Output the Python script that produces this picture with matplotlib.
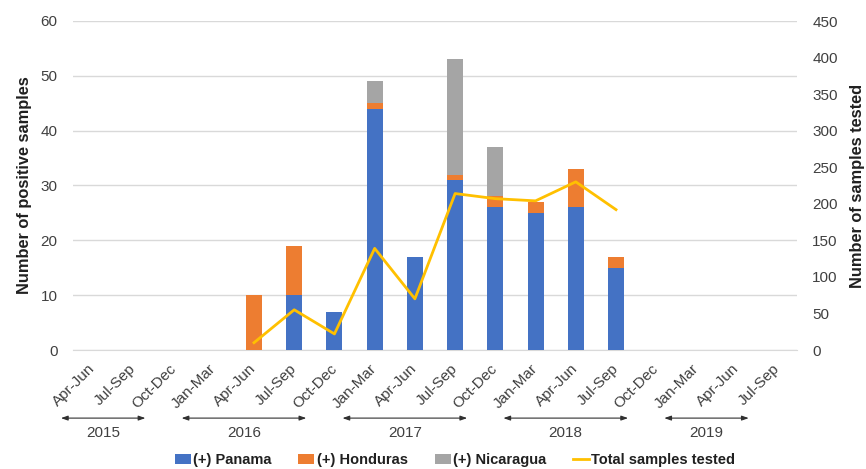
import matplotlib
matplotlib.use("Agg")
import matplotlib.pyplot as plt
import numpy as np

plt.rcParams['font.family'] = ['Liberation Sans', 'DejaVu Sans']

quarters = ["Apr-Jun", "Jul-Sep", "Oct-Dec",
            "Jan-Mar", "Apr-Jun", "Jul-Sep", "Oct-Dec",
            "Jan-Mar", "Apr-Jun", "Jul-Sep", "Oct-Dec",
            "Jan-Mar", "Apr-Jun", "Jul-Sep", "Oct-Dec",
            "Jan-Mar", "Apr-Jun", "Jul-Sep"]
years = ["2015", "2016", "2017", "2018", "2019"]
year_quarter_counts = [3, 4, 4, 4, 3]

panama    = [0, 0, 0, 0, 0, 10, 7, 44, 17, 31, 26, 25, 26, 15, 0, 0, 0, 0]
honduras  = [0, 0, 0, 0, 10, 9, 0, 1, 0, 1, 2, 2, 7, 2, 0, 0, 0, 0]
nicaragua = [0, 0, 0, 0, 0, 0, 0, 4, 0, 21, 9, 0, 0, 0, 0, 0, 0, 0]
total_tested = [np.nan, np.nan, np.nan, np.nan, 10, 55, 22, 139, 70, 214, 207, 204, 230, 192,
                np.nan, np.nan, np.nan, np.nan]

c_blue = "#4472C4"
c_orange = "#ED7D31"
c_grey = "#A5A5A5"
c_gold = "#FFC000"
tick_col = "#404040"

fig = plt.figure(figsize=(8.66, 4.69), dpi=100)
ax = fig.add_axes([73/866, 1-350/469, (797-73)/866, (350-21)/469])
x = np.arange(len(quarters))
w = 0.4
p = np.array(panama); h = np.array(honduras); n = np.array(nicaragua)
ax.bar(x, p, w, color=c_blue, label="(+) Panama", zorder=3)
ax.bar(x, h, w, bottom=p, color=c_orange, label="(+) Honduras", zorder=3)
ax.bar(x, n, w, bottom=p+h, color=c_grey, label="(+) Nicaragua", zorder=3)

ax.set_xlim(-0.5, len(quarters)-0.5)
ax.set_ylim(0, 60)
ax.set_yticks(np.arange(0, 61, 10))
ax.grid(axis='y', color='#D9D9D9', lw=1, zorder=0)
for s in ['top', 'right', 'left']:
    ax.spines[s].set_visible(False)
ax.spines['bottom'].set_color('#D9D9D9')
ax.tick_params(axis='both', length=0, labelsize=11, labelcolor=tick_col)
ax.tick_params(axis='y', pad=11)
ax.set_xticks(x)
ax.set_xticklabels(quarters, rotation=45, ha='right', va='center', rotation_mode='anchor')
ax.tick_params(axis='x', pad=12)
ax.set_ylabel("Number of positive samples", fontsize=11.8, fontweight='bold', labelpad=6,
              color='#202020')

ax2 = ax.twinx()
ax2.plot(x, total_tested, color=c_gold, lw=2, label="Total samples tested", zorder=4)
ax2.set_ylim(0, 450)
ax2.set_yticks(np.arange(0, 451, 50))
for s in ax2.spines.values():
    s.set_visible(False)
ax2.tick_params(axis='y', length=0, labelsize=11, labelcolor=tick_col, pad=11)
ax2.set_ylabel("Number of samples tested", fontsize=11.8, fontweight='bold', labelpad=9,
               color='#202020')

# year brackets
trans = ax.get_xaxis_transform()
start = 0
for yr, cnt in zip(years, year_quarter_counts):
    a = start - 0.8
    b = start + cnt - 1 - 0.7
    ax.annotate("", xy=(a, -0.207), xytext=(b, -0.207), xycoords=trans, textcoords=trans,
                arrowprops=dict(arrowstyle='<|-|>,head_length=0.4,head_width=0.14',
                                color='#303030', lw=0.8, shrinkA=0, shrinkB=0),
                annotation_clip=False)
    ax.text((a+b)/2, -0.252, yr, transform=trans, ha='center', va='center',
            fontsize=11, color=tick_col)
    start += cnt

h1, l1 = ax.get_legend_handles_labels()
h2, l2 = ax2.get_legend_handles_labels()
leg = fig.legend(h1+h2, l1+l2, loc='center', bbox_to_anchor=(455/866, 1-460/469), ncol=4,
                 frameon=False, handlelength=1.1, handleheight=0.7, handletextpad=0.15,
                 columnspacing=1.85, prop={'weight': 'bold', 'size': 10.5})
for t in leg.get_texts():
    t.set_color('#202020')

fig.savefig("out.png", dpi=100)
